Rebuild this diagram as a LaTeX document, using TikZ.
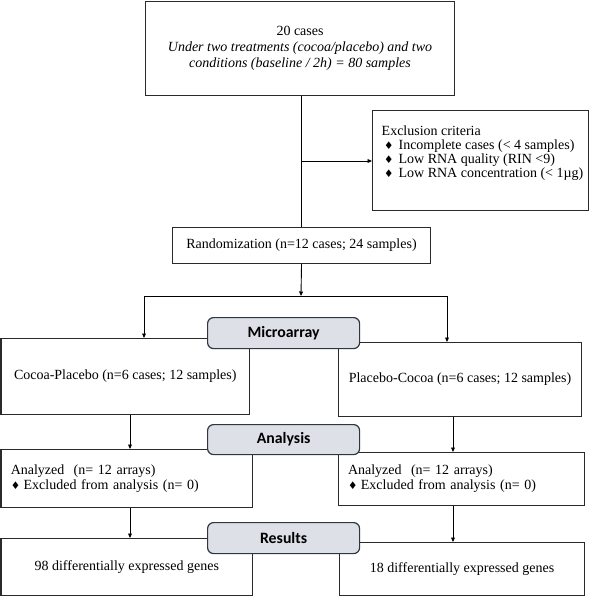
\documentclass[tikz,border=0pt]{standalone}
\usepackage{fontspec}
\setmainfont{Liberation Serif}
\newfontfamily\tnr{Liberation Serif}
\newfontfamily\labfont{Carlito}
\newfontfamily\djv{DejaVu Sans}
\usetikzlibrary{arrows.meta}
\definecolor{labfill}{HTML}{DDE0E6}
\definecolor{labdraw}{HTML}{2E3642}
\definecolor{boxdraw}{HTML}{2A2A2A}
\newcommand\dia{{\djv\fontsize{10.5}{10}\selectfont ♦}}
\begin{document}
\begin{tikzpicture}[x=1pt,y=-1pt,
  box/.style={draw=boxdraw,line width=1.05pt,fill=white,anchor=north west,inner sep=0pt,
    font=\tnr\fontsize{14}{16}\selectfont},
  lab/.style={draw=labdraw,line width=1.2pt,fill=labfill,rounded corners=6pt,anchor=north west,
    inner sep=0pt,minimum width=152pt,minimum height=31pt,font=\labfont\bfseries\fontsize{15.8}{16}\selectfont},
  arr/.style={line width=0.9pt,-{Triangle[length=4.5pt,width=3.8pt]}},
  ln/.style={line width=0.9pt}]
\useasboundingbox (0,0) rectangle (601,596);
% boxes
\node[box,minimum width=309pt,minimum height=94pt,align=center] (top) at (145,1)
  {20 cases\\ \itshape Under two treatments (cocoa/placebo) and two\\ \itshape conditions (baseline / 2h) = 80 samples};
\node[box,minimum width=216pt,minimum height=100pt] (excl) at (372,110) {};
\node[anchor=north west,inner sep=0pt,align=left,font=\tnr\fontsize{14}{14}\selectfont] (excltxt) at (381.5,125.5)
  {Exclusion criteria\\
   \hspace{2.5pt}\dia\hspace{5pt}Incomplete cases (< 4 samples)\\
   \hspace{2.5pt}\dia\hspace{5pt}Low RNA quality (RIN <9)\\
   \hspace{2.5pt}\dia\hspace{5pt}Low RNA concentration (< 1µg)};
\node[box,minimum width=258pt,minimum height=36pt] (rand) at (172,227) {Randomization (n=12 cases; 24 samples)};
\node[box,minimum width=248.5pt,minimum height=76pt] (cp) at (0.5,338) {Cocoa-Placebo (n=6 cases; 12 samples)};
\node[box,minimum width=243pt,minimum height=74pt] (pc) at (338,342) {Placebo-Cocoa (n=6 cases; 12 samples)};
\node[box,minimum width=251.5pt,minimum height=58pt,text width=232pt,inner xsep=9.5pt,align=left,
  font=\tnr\fontsize{14}{15}\selectfont] (anl) at (0.5,449)
  {Analyzed~ (n= 12 arrays)\\ \dia\hspace{3.5pt}Excluded from analysis (n= 0)};
\node[box,minimum width=246pt,minimum height=53pt,text width=227pt,inner xsep=9.5pt,align=left,
  font=\tnr\fontsize{14}{15}\selectfont] (anr) at (338,452)
  {Analyzed~ (n= 12 arrays)\\ \dia\hspace{3.5pt}Excluded from analysis (n= 0)};
\node[box,minimum width=251.5pt,minimum height=57pt] (gl) at (0.5,538) {98 differentially expressed genes};
\node[box,minimum width=245pt,minimum height=53pt] (gr) at (339,542) {18 differentially expressed genes};
% coordinates
\coordinate (split) at (301,161);
\coordinate (hmid) at (301,296);
\coordinate (hL) at (144,296);
\coordinate (hR) at (447,296);
\coordinate (colL) at (130,0);
\coordinate (colR) at (453,0);
% connectors
\draw[ln] (top.south -| rand.north) -- (rand.north);
\draw[arr] (split) -- (excl.west |- split);
\draw[arr] (rand.south) -- (hmid);
\draw[ln] (hL) -- (hR);
\draw[arr] (hL) -- (cp.north -| hL);
\draw[arr] (hR) -- (pc.north -| hR);
\draw[arr] (cp.south -| colL) -- (anl.north -| colL);
\draw[arr] (pc.south -| colR) -- (anr.north -| colR);
\draw[arr] (anl.south -| colL) -- (gl.north -| colL);
\draw[arr] (anr.south -| colR) -- (gr.north -| colR);
% labels
\node[lab] (micro) at (207,317) {Microarray};
\node[lab,minimum height=30pt] (anal) at (207,424) {Analysis};
\node[lab] (res) at (207,522) {Results};
\end{tikzpicture}
\end{document}
